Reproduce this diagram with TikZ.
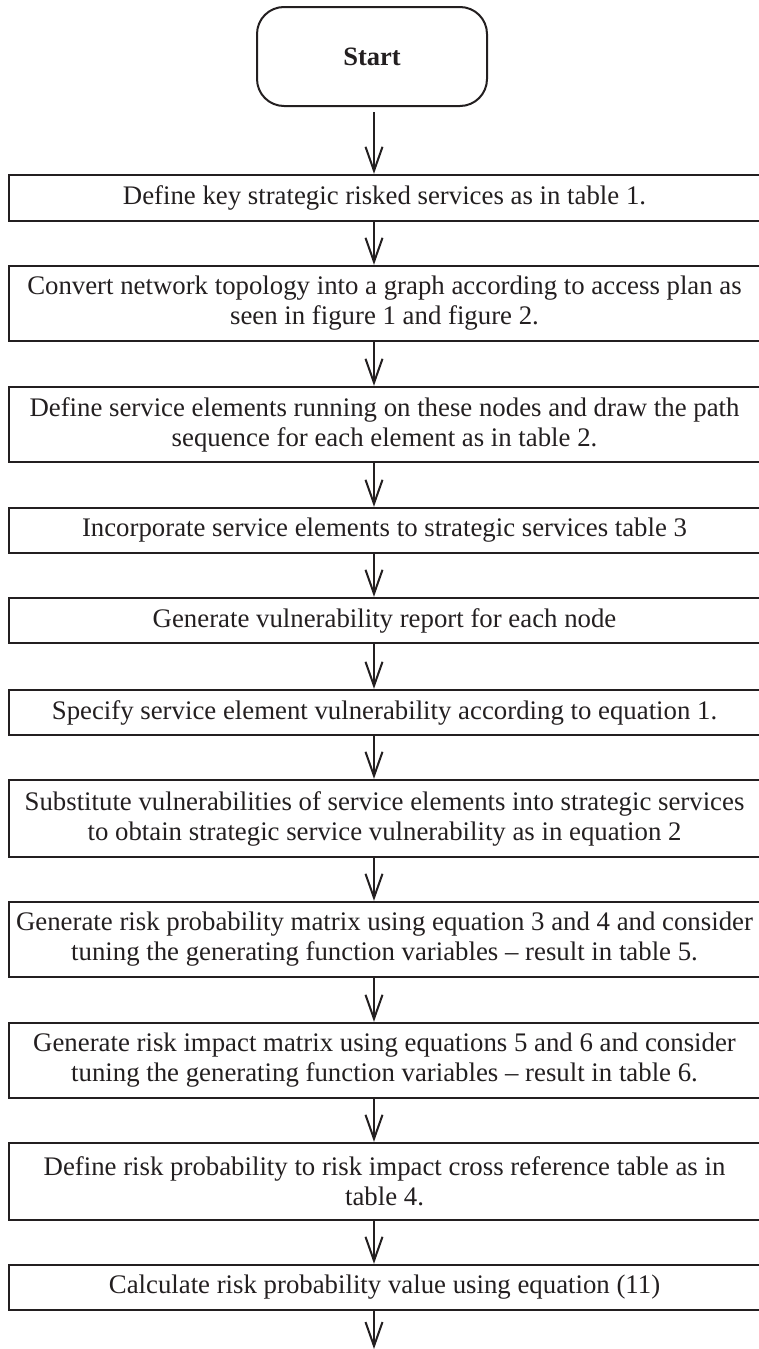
\documentclass[tikz,border=0pt]{standalone}
\usepackage{fontspec}
\setmainfont{Liberation Serif}
\usetikzlibrary{arrows.meta}
\definecolor{ink}{HTML}{231F20}
\begin{document}
\begin{tikzpicture}[x=1pt,y=-1pt,
  every node/.style={text=ink},
  stepbox/.style={draw=ink, line width=2.4pt, rectangle, minimum width=751pt, inner sep=0pt, align=center, font=\fontsize{26.8}{30}\selectfont},
  startbox/.style={draw=ink, line width=2pt, rectangle, rounded corners=27pt, minimum width=230pt, minimum height=99pt, inner sep=0pt, font=\fontsize{26.5}{30}\selectfont\bfseries},
  flow/.style={draw=ink, line width=2pt, -{Straight Barb[length=24pt,width=17pt,line width=2pt]}}
]
\useasboundingbox (0,0) rectangle (758,1349);
\node[startbox] (s) at (372,56.5) {Start};
\node[stepbox, minimum height=46pt] (b1) at (384.5,198) {Define key strategic risked services as in table 1.};
\node[stepbox, minimum height=75pt] (b2) at (384.5,303.5) {Convert network topology into a graph according to access plan as\\seen in figure 1 and figure 2.};
\node[stepbox, minimum height=75pt] (b3) at (384.5,424.5) {Define service elements running on these nodes and draw the path\\sequence for each element as in table 2.};
\node[stepbox, minimum height=45pt] (b4) at (384.5,530.5) {Incorporate service elements to strategic services table 3};
\node[stepbox, minimum height=45pt] (b5) at (384.5,620.5) {Generate vulnerability report for each node};
\node[stepbox, minimum height=45pt] (b6) at (384.5,712.5) {Specify service element vulnerability according to equation 1.};
\node[stepbox, minimum height=77pt] (b7) at (384.5,818.5) {Substitute vulnerabilities of service elements into strategic services\\to obtain strategic service vulnerability as in equation 2};
\node[stepbox, minimum height=75pt] (b8) at (384.5,939.5) {Generate risk probability matrix using equation 3 and 4 and consider\\tuning the generating function variables -- result in table 5.};
\node[stepbox, minimum height=75pt] (b9) at (384.5,1060.5) {Generate risk impact matrix using equations 5 and 6 and consider\\tuning the generating function variables -- result in table 6.};
\node[stepbox, minimum height=77pt] (b10) at (384.5,1181.5) {Define risk probability to risk impact cross reference table as in\\table 4.};
\node[stepbox, minimum height=45pt] (b11) at (384.5,1287.5) {Calculate risk probability value using equation (11)};
\coordinate (end) at (374,1349);
\draw[flow, shorten <=5pt] (s.south -| end) -- (b1.north -| end);
\foreach \a/\b in {b1/b2,b2/b3,b3/b4,b4/b5,b5/b6,b6/b7,b7/b8,b8/b9,b9/b10,b10/b11}{
  \draw[flow] (\a.south -| end) -- (\b.north -| end);
}
\draw[flow] (b11.south -| end) -- (end);
\end{tikzpicture}
\end{document}
